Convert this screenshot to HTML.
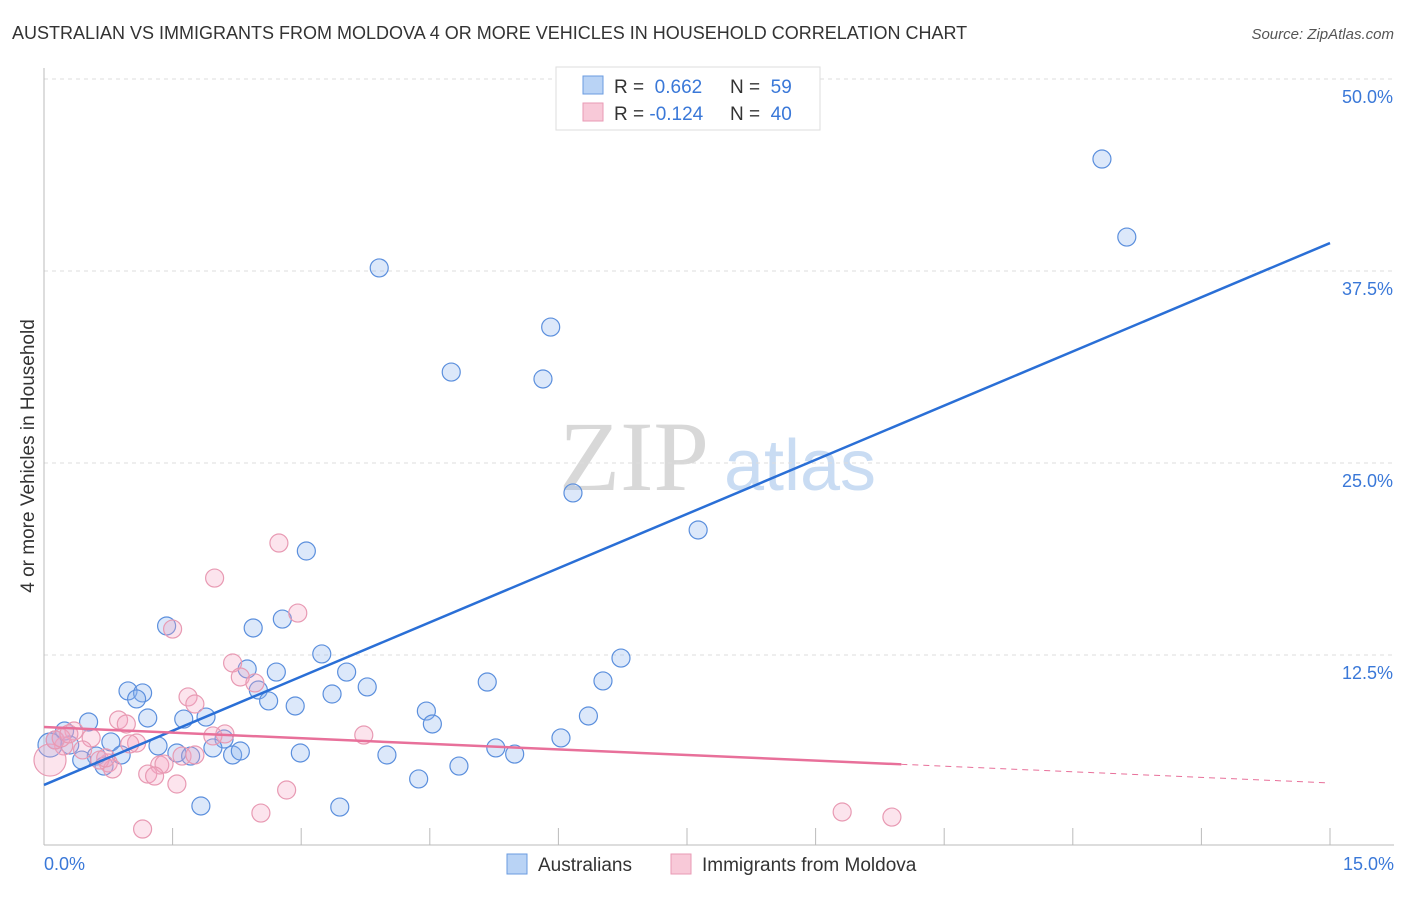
<!DOCTYPE html>
<html><head><meta charset="utf-8"><style>
body{margin:0;background:#fff;font-family:"Liberation Sans",sans-serif;}
</style></head><body>
<svg id="chart" width="1406" height="892" font-family="Liberation Sans, sans-serif">
<text x="12" y="39" font-size="18" fill="#333">AUSTRALIAN VS IMMIGRANTS FROM MOLDOVA 4 OR MORE VEHICLES IN HOUSEHOLD CORRELATION CHART</text>
<text x="1394" y="39" font-size="15" fill="#555" text-anchor="end" font-style="italic">Source: ZipAtlas.com</text>
<text x="634" y="490" font-size="100" fill="#d8d8d8" style="font-family:'Liberation Serif',serif" text-anchor="middle">ZIP</text>
<text x="800" y="490" font-size="72" fill="#c9dcf3" text-anchor="middle">atlas</text>
<g id="grid"></g><g id="axes"></g><g id="pts"></g><g id="lines"></g>
<text transform="translate(34,456) rotate(-90)" font-size="19" fill="#333" text-anchor="middle">4 or more Vehicles in Household</text>
<g>
<rect x="556" y="67" width="264" height="63" fill="#fff" stroke="#ddd"/>
<rect x="583" y="76" width="20" height="18" fill="#b9d3f5" stroke="#6a9be0"/>
<rect x="583" y="103" width="20" height="18" fill="#f8c9d8" stroke="#e99ab5"/>
<text x="614" y="93" font-size="19" fill="#333">R = <tspan fill="#3a78d8">&#160;0.662</tspan><tspan x="730">N = </tspan><tspan fill="#3a78d8">&#160;59</tspan></text>
<text x="614" y="120" font-size="19" fill="#333">R = <tspan fill="#3a78d8">-0.124</tspan><tspan x="730">N = </tspan><tspan fill="#3a78d8">&#160;40</tspan></text>
</g>
<g>
<rect x="507" y="854" width="20" height="20" fill="#b9d3f5" stroke="#6a9be0"/>
<text x="538" y="871" font-size="19" fill="#333">Australians</text>
<rect x="671" y="854" width="20" height="20" fill="#f8c9d8" stroke="#e99ab5"/>
<text x="702" y="871" font-size="19" fill="#333">Immigrants from Moldova</text>
</g>
</svg>
<script>
const blueX=[12.34,12.63,3.91,5.91,4.75,5.82,6.17,7.63,3.06,1.43,2.44,2.78,3.24,6.73,2.37,2.71,3.53,5.17,6.52,0.98,1.15,2.50,1.08,3.36,3.77,2.62,2.93,1.21,1.63,1.89,4.46,4.53,6.35,0.52,0.24,0.13,0.78,1.33,2.10,6.03,5.27,5.49,1.55,1.71,1.97,2.20,2.29,2.99,4.00,0.90,0.61,0.44,0.70,4.84,4.37,1.83,3.45,0.30,0.07];
const blueY=[44.79,39.71,37.70,33.85,30.92,30.47,23.05,20.64,19.27,14.39,14.26,14.84,12.57,12.30,11.59,11.39,11.39,10.74,10.81,10.16,10.03,10.22,9.64,9.96,10.42,9.51,9.18,8.40,8.33,8.46,8.85,8.01,8.53,8.14,7.55,6.97,6.84,6.58,7.03,7.10,6.45,6.05,6.12,5.92,6.45,5.99,6.25,6.12,5.99,5.99,5.92,5.66,5.27,5.27,4.43,2.67,2.60,6.64,6.64];
const pinkX=[2.74,1.99,2.96,1.50,2.20,2.29,2.46,1.68,1.76,0.87,0.96,2.11,1.97,3.73,0.55,0.35,0.23,1.08,1.00,0.45,1.61,1.76,0.75,0.80,1.35,1.40,1.21,1.29,1.55,2.83,2.53,1.15,9.31,9.89,0.07,0.13,0.65,0.20,0.29,0.72];
const pinkY=[19.79,17.51,15.23,14.19,11.98,11.07,10.68,9.77,9.31,8.27,8.01,7.36,7.23,7.29,7.10,7.55,6.58,6.77,6.71,6.32,5.92,5.99,5.47,5.08,5.34,5.40,4.75,4.62,4.10,3.71,2.21,1.17,2.28,1.95,5.66,6.97,5.66,7.10,7.36,5.80];
const yTicks=[12.5,25.0,37.5,50.0];
const xTickVals=[0,1.5,3,4.5,6,7.5,9,10.5,12,13.5,15];
const blueFit=[4.04,39.32];
const pinkFit=[7.81,4.17];
const NS="http://www.w3.org/2000/svg";
const X=v=>44+v/15*1286, Y=v=>847-v/50*768;
function mk(t,a,p){const e=document.createElementNS(NS,t);for(const k in a)e.setAttribute(k,a[k]);p.appendChild(e);return e;}
const grid=document.getElementById('grid'),axes=document.getElementById('axes'),pts=document.getElementById('pts'),lines=document.getElementById('lines');
yTicks.forEach(t=>{const l=mk('line',{x1:44,x2:1394,y1:Y(t),y2:Y(t),stroke:'#ddd','stroke-dasharray':'4,4'},grid);


const tx=mk('text',{x:1393,y:Y(t)+24,'font-size':18,fill:'#3a78d8','text-anchor':'end'},grid);tx.textContent=t.toFixed(1)+'%';

});
mk('line',{x1:44,x2:44,y1:68,y2:845,stroke:'#bbb'},axes);
mk('line',{x1:44,x2:1394,y1:845,y2:845,stroke:'#bbb'},axes);
xTickVals.forEach(t=>{const l=mk('line',{x1:X(t),x2:X(t),y1:828,y2:845,stroke:'#bbb'},axes);

});
const t0=mk('text',{x:44,y:870,'font-size':18,fill:'#3a78d8'},axes);t0.textContent='0.0%';


const t1=mk('text',{x:1394,y:870,'font-size':18,fill:'#3a78d8','text-anchor':'end'},axes);t1.textContent='15.0%';


blueX.forEach((v,i)=>{const c=mk('circle',{cx:X(v),cy:Y(blueY[i]),r:(i==blueX.length-1)?12:9,fill:'rgba(140,180,240,0.3)',stroke:'#5b8fdd','stroke-width':1.2},pts);

});
pinkX.forEach((v,i)=>{const c=mk('circle',{cx:X(v),cy:Y(pinkY[i]),r:(i==34)?16:9,fill:'rgba(245,165,195,0.3)',stroke:'#e89ab3','stroke-width':1.2},pts);

});
const bl=mk('line',{x1:X(0),y1:Y(blueFit[0]),x2:X(15),y2:Y(blueFit[1]),stroke:'#2a6fd6','stroke-width':2.5},lines);


const pm=x=>pinkFit[0]+(pinkFit[1]-pinkFit[0])*x/15;
const pl=mk('line',{x1:X(0),y1:Y(pm(0)),x2:X(10),y2:Y(pm(10)),stroke:'#e8709a','stroke-width':2.5},lines);


const pd=mk('line',{x1:X(10),y1:Y(pm(10)),x2:X(15),y2:Y(pm(15)),stroke:'#e8709a','stroke-width':1,'stroke-dasharray':'6,5'},lines);


</script>
</body></html>
